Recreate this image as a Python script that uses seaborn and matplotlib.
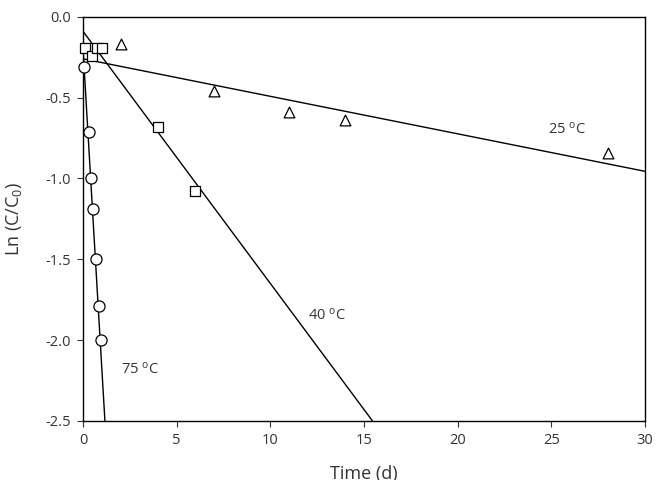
import numpy as np
import pandas as pd
import matplotlib
matplotlib.use("Agg")
import matplotlib.pyplot as plt
import seaborn as sns

# data
t_25 = [2, 7, 11, 14, 28]
lnc_25 = [-0.17, -0.46, -0.59, -0.64, -0.84]

t_40 = [0.1, 0.5, 0.75, 1.0, 4, 6]
lnc_40 = [-0.19, -0.24, -0.19, -0.19, -0.68, -1.08]

t_75 = [0.05, 0.33, 0.42, 0.54, 0.69, 0.83, 0.96]
lnc_75 = [-0.31, -0.71, -1.0, -1.19, -1.50, -1.79, -2.0]

# fitted lines: intercept, slope
fit_25 = (-0.26, -0.0232)
fit_40 = (-0.09, -0.156)
fit_75 = (-0.20, -1.97)

sns.set_style("ticks")
plt.rcParams['font.family'] = ['Open Sans', 'DejaVu Sans']
plt.rcParams['mathtext.default'] = 'regular'

fig = plt.figure(figsize=(6.59, 4.8), dpi=100)
ax = fig.add_axes([0.126, 0.123, 0.853, 0.842])

df = pd.concat([
    pd.DataFrame({"t": t_25, "lnc": lnc_25, "T": "25"}),
    pd.DataFrame({"t": t_40, "lnc": lnc_40, "T": "40"}),
    pd.DataFrame({"t": t_75, "lnc": lnc_75, "T": "75"}),
])

# regression lines
for (b, m) in [fit_25, fit_40, fit_75]:
    x_end = min(30, (-2.5 - b) / m)
    xs = np.array([0, x_end])
    ax.plot(xs, b + m * xs, color="black", lw=1.0, zorder=2)

marks = {"25": "^", "40": "s", "75": "o"}
msize = {"25": 60, "40": 52, "75": 64}
for key, grp in df.groupby("T"):
    sns.scatterplot(data=grp, x="t", y="lnc", marker=marks[key], s=msize[key],
                    color="white", edgecolor="black", linewidth=0.9,
                    legend=False, ax=ax, zorder=3, clip_on=False)

ax.text(24.8, -0.72, "25 $^{o}$C", fontsize=10.5, color="#333333")
ax.text(12.0, -1.87, "40 $^{o}$C", fontsize=10.5, color="#333333")
ax.text(2.0, -2.21, "75 $^{o}$C", fontsize=10.5, color="#333333")

ax.set_xlim(0, 30)
ax.set_ylim(-2.5, 0)
ax.set_xticks([0, 5, 10, 15, 20, 25, 30])
ax.set_yticks([-2.5, -2.0, -1.5, -1.0, -0.5, 0.0])
ax.set_yticklabels(["-2.5", "-2.0", "-1.5", "-1.0", "-0.5", "0.0"])
ax.tick_params(direction="out", length=4, width=0.8, labelsize=10.5, colors="#333333", pad=5)
for s in ax.spines.values():
    s.set_linewidth(1.0)
    s.set_color("black")
ax.set_xlabel("Time (d)", fontsize=13, labelpad=12, color="#333333")
ax.set_ylabel("Ln (C/C$_0$)", fontsize=13, labelpad=15, color="#333333")

fig.savefig("out.png", dpi=100)
